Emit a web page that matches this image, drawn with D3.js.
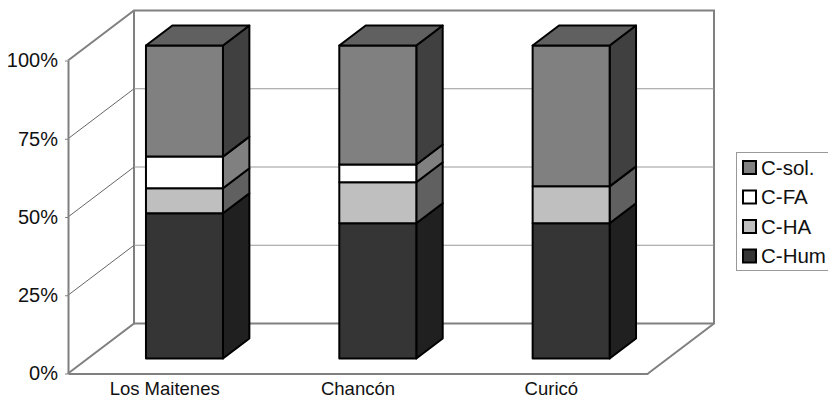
<!DOCTYPE html>
<html>
<head>
<meta charset="utf-8">
<script src="https://cdn.jsdelivr.net/npm/d3@7"></script>
<style>
  html, body { margin: 0; padding: 0; background: #fff; }
  svg { display: block; }
  text { font-family: "Liberation Sans", Arial, sans-serif; fill: #111; }
</style>
</head>
<body>
<div id="chart"></div>
<script>
const categories = ['Los Maitenes', 'Chancón', 'Curicó'];
const seriesNames = ['C-Hum', 'C-HA', 'C-FA', 'C-sol.'];
const cHum = [46.4, 43.2, 43.2];
const cHA = [8.0, 13.1, 11.8];
const cFA = [10.1, 5.7, 0];
const cSol = [35.5, 38.0, 45.0];
const yTicks = [0, 25, 50, 75, 100];

const seriesValues = [cHum, cHA, cFA, cSol];
const frontColors = ['#353535', '#bfbfbf', '#ffffff', '#808080'];
const sideColors = ['#202020', '#606060', '#808080', '#404040'];
const topColor = '#606060';

const width = 828, height = 396;
const plotLeft = 68, plotRight = 648, plotBottom = 373.5, plotTop = 60.5;
// wall depth of the 3D box, and where the bars sit inside it
const depthX = 66, depthY = -50;
const barFront = 0.3, barBack = 0.7;

const x = d3.scaleBand().domain(categories).range([plotLeft, plotRight]).paddingInner(0).paddingOuter(0);
const y = d3.scaleLinear().domain([0, 100]).range([plotBottom, plotTop]);
const barW = 77;

const svg = d3.select('#chart').append('svg')
    .attr('width', width)
    .attr('height', height);

// Walls and floor
const wall = svg.append('g').attr('fill', 'none').attr('stroke', '#808080');
const polyline = pts => d3.line()(pts);

wall.append('path')
    .attr('stroke-width', 2)
    .attr('d', polyline([
        [plotLeft, y(100)], [plotLeft + depthX, y(100) + depthY], [plotRight + depthX, y(100) + depthY],
        [plotRight + depthX, y(0) + depthY], [plotRight, y(0)]
    ]));
wall.append('path')
    .attr('stroke-width', 2)
    .attr('d', polyline([[plotLeft, y(0)], [plotLeft + depthX, y(0) + depthY], [plotLeft + depthX, y(100) + depthY]]));
wall.append('path')
    .attr('stroke-width', 2)
    .attr('d', polyline([[plotLeft + depthX, y(0) + depthY], [plotRight + depthX, y(0) + depthY]]));

// Gridlines on the side and back walls
yTicks.filter(t => t > 0 && t < 100).forEach(t => {
    wall.append('path')
        .attr('stroke', '#666')
        .attr('stroke-width', 1)
        .attr('d', polyline([[plotLeft, y(t)], [plotLeft + depthX, y(t) + depthY]]));
    wall.append('path')
        .attr('stroke', '#999')
        .attr('stroke-width', 1.2)
        .attr('d', polyline([[plotLeft + depthX, y(t) + depthY], [plotRight + depthX, y(t) + depthY]]));
});

// Axes
const yAxis = svg.append('g')
    .attr('transform', `translate(${plotLeft},0)`)
    .call(d3.axisLeft(y).tickValues(yTicks).tickFormat(d => d + '%').tickSize(3).tickPadding(7).tickSizeOuter(0));
yAxis.selectAll('text').attr('font-size', 20).style('font-family', '"Liberation Sans", Arial, sans-serif').attr('fill', '#111');
yAxis.selectAll('line').attr('stroke', '#808080');
yAxis.select('.domain').attr('stroke', '#808080').attr('stroke-width', 2);

const xAxis = svg.append('g')
    .attr('transform', `translate(0,${plotBottom})`)
    .call(d3.axisBottom(x).tickSize(0).tickPadding(8));
xAxis.selectAll('text').attr('font-size', 18.5).style('font-family', '"Liberation Sans", Arial, sans-serif').attr('fill', '#111');
xAxis.select('.domain').attr('stroke', '#808080').attr('stroke-width', 2);

// Bars, front + side faces per segment, top face on the last one
const shiftX = depthX * barFront, shiftY = depthY * barFront;
const sideX = depthX * (barBack - barFront), sideY = depthY * (barBack - barFront);

const bars = svg.append('g').attr('stroke', '#000').attr('stroke-width', 2).attr('stroke-linejoin', 'round');

categories.forEach((cat, i) => {
    const x0 = x(cat) + (x.bandwidth() - barW) / 2 + shiftX;
    const x1 = x0 + barW;
    let acc = 0;
    seriesValues.forEach((vals, s) => {
        const v = vals[i];
        if (v <= 0) return;
        const yLow = y(acc) + shiftY;
        const yHigh = y(acc + v) + shiftY;
        acc += v;
        bars.append('path')
            .attr('fill', sideColors[s])
            .attr('d', polyline([[x1, yLow], [x1 + sideX, yLow + sideY], [x1 + sideX, yHigh + sideY], [x1, yHigh]]) + 'Z');
        bars.append('path')
            .attr('fill', frontColors[s])
            .attr('d', polyline([[x0, yLow], [x1, yLow], [x1, yHigh], [x0, yHigh]]) + 'Z');
    });
    const yTop = y(acc) + shiftY;
    bars.append('path')
        .attr('fill', topColor)
        .attr('d', polyline([[x0, yTop], [x1, yTop], [x1 + sideX, yTop + sideY], [x0 + sideX, yTop + sideY]]) + 'Z');
});

// Legend
const legend = svg.append('g');
legend.append('rect')
    .attr('x', 736.5).attr('y', 152.5)
    .attr('width', 100).attr('height', 118)
    .attr('fill', '#fff').attr('stroke', '#999');

const legendY = d3.scalePoint().domain(d3.range(4)).range([167.5, 256]);
d3.range(4).forEach(k => {
    const s = 3 - k;
    legend.append('rect')
        .attr('x', 743).attr('y', legendY(k) - 6.5)
        .attr('width', 13).attr('height', 13)
        .attr('fill', frontColors[s])
        .attr('stroke', '#000').attr('stroke-width', 2);
    legend.append('text')
        .attr('x', 761).attr('y', legendY(k) + 7)
        .attr('font-size', 20.5)
        .text(seriesNames[s]);
});
</script>
</body>
</html>
